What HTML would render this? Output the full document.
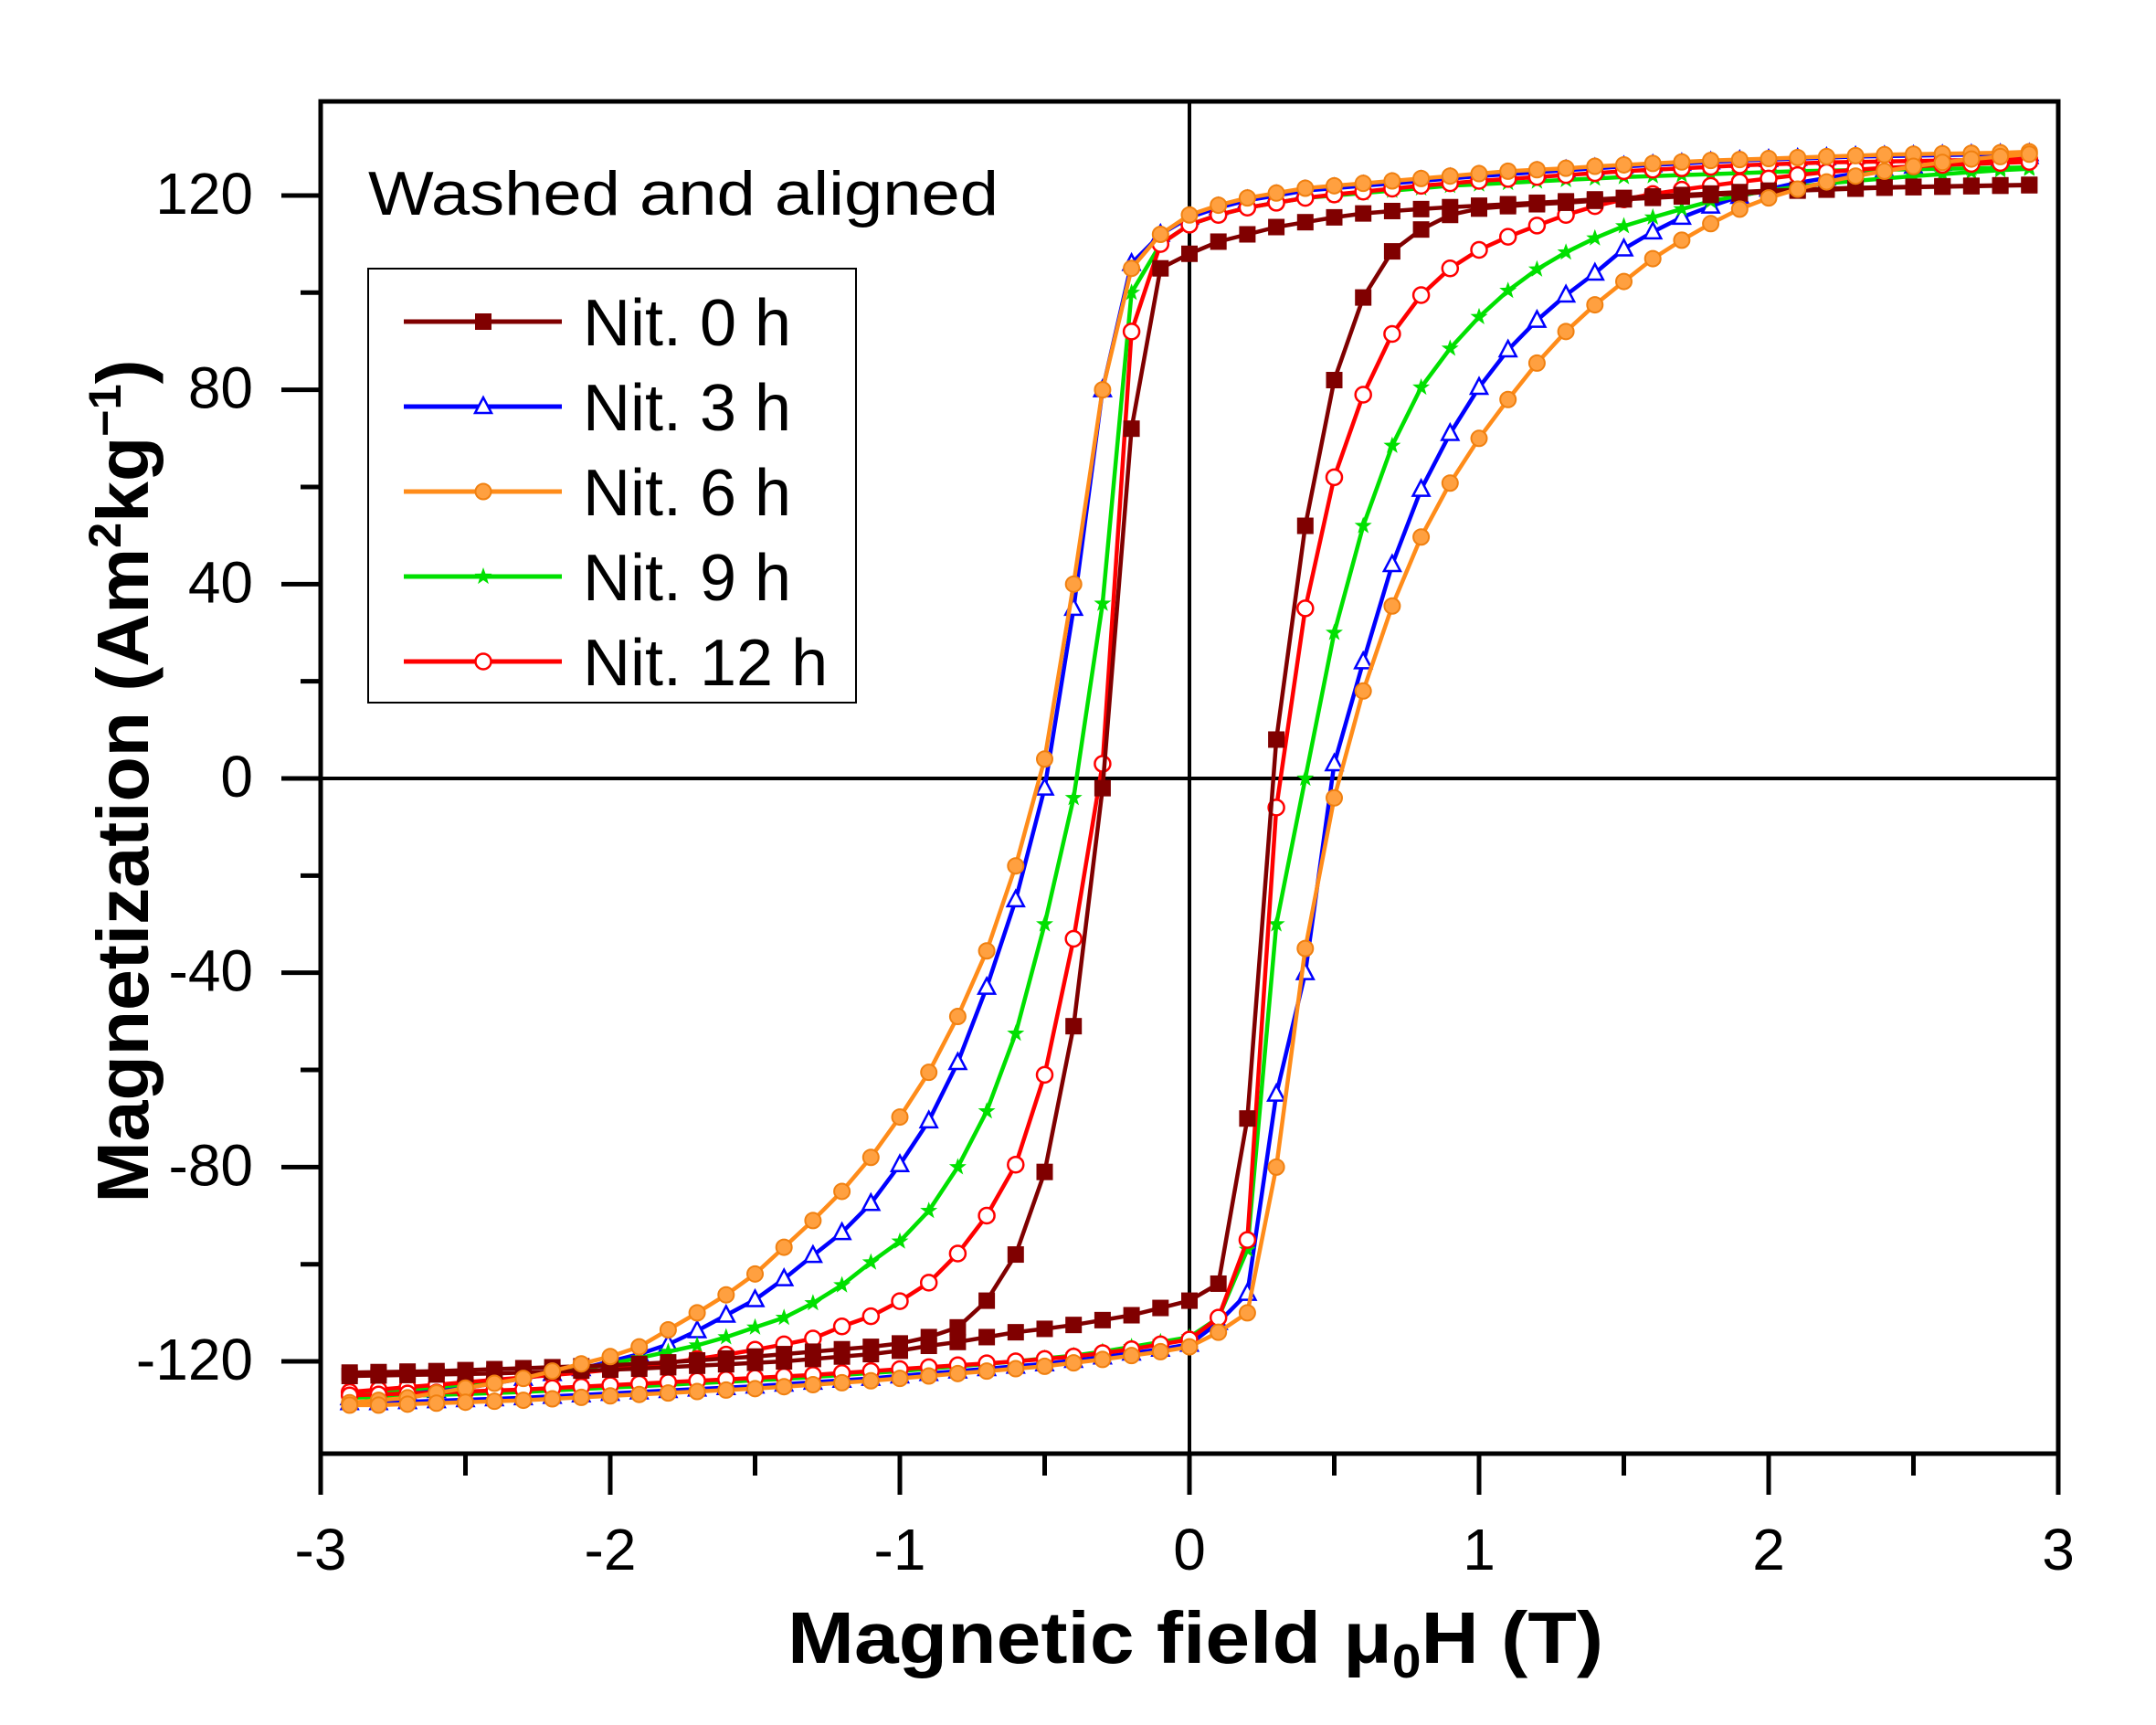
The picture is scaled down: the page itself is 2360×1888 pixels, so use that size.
<!DOCTYPE html>
<html><head><meta charset="utf-8">
<style>
html,body{margin:0;padding:0;background:#fff;}
svg{display:block;font-family:"Liberation Sans",Arial,sans-serif;}
</style></head>
<body>
<svg id="chart" width="2360" height="1888" viewBox="0 0 2360 1888" xmlns="http://www.w3.org/2000/svg">
<rect width="2360" height="1888" fill="#fff"/>
<g id="axes"></g>
<g id="series"></g>
<text x="403" y="235" font-size="68" textLength="690" lengthAdjust="spacingAndGlyphs">Washed and aligned</text>
<g id="legend"></g>
<text x="862" y="1820" font-size="80" font-weight="bold" textLength="893" lengthAdjust="spacingAndGlyphs">Magnetic field μ<tspan font-size="52" dy="16">0</tspan><tspan dy="-16">H (T)</tspan></text>
<text transform="translate(162,855) rotate(-90)" text-anchor="middle" font-size="80" font-weight="bold" textLength="923" lengthAdjust="spacingAndGlyphs">Magnetization (Am<tspan font-size="50" dy="-30">2</tspan><tspan dy="30">kg</tspan><tspan font-size="50" dy="-30">−1</tspan><tspan dy="30">)</tspan></text>
</svg>
<script>
const fieldGrid = [-2.9,-2.8,-2.7,-2.6,-2.5,-2.4,-2.3,-2.2,-2.1,-2.0,-1.9,-1.8,-1.7,-1.6,-1.5,-1.4,-1.3,-1.2,-1.1,-1.0,-0.9,-0.8,-0.7,-0.6,-0.5,-0.4,-0.3,-0.2,-0.1,0,0.1,0.2,0.3,0.4,0.5,0.6,0.7,0.8,0.9,1.0,1.1,1.2,1.3,1.4,1.5,1.6,1.7,1.8,1.9,2.0,2.1,2.2,2.3,2.4,2.5,2.6,2.7,2.8,2.9];
const seriesNames = ["Nit. 0 h","Nit. 3 h","Nit. 6 h","Nit. 9 h","Nit. 12 h"];
const xTicks = [-3,-2,-1,0,1,2,3];
const yTicks = [-120,-80,-40,0,40,80,120];
// upper (descending-field) branches
const upper0h = [-122.3,-122.2,-122.1,-122,-121.8,-121.6,-121.4,-121.2,-121,-120.8,-120.5,-120.2,-119.8,-119.4,-119,-118.5,-118,-117.5,-117,-116.3,-115,-113,-107.5,-98,-81,-51,-2,72,105,108,110.5,112,113.5,114.5,115.5,116.3,116.8,117.2,117.6,117.9,118.2,118.5,118.8,119.2,119.5,119.8,120.1,120.4,120.7,121,121.2,121.4,121.6,121.7,121.8,121.9,122,122.1,122.2];
const upper3h = [-127.5,-127,-126.5,-126,-125.5,-124.5,-123.5,-122.5,-121.5,-120,-118.5,-116.5,-113.7,-110.5,-107.3,-103,-98.2,-93.5,-87.5,-79.5,-70.5,-58.5,-43,-25,-2,35,80,106,112,115.5,117.5,119,120,121,121.5,122,122.5,123,123.5,124,124.4,124.8,125.2,125.6,126,126.3,126.6,126.9,127.2,127.4,127.6,127.8,128,128.1,128.2,128.3,128.4,128.5,128.6];
const upper6h = [-128.5,-128,-127.5,-126.5,-125.5,-124.5,-123.5,-122,-120.5,-119,-117,-113.5,-110,-106.3,-102,-96.5,-91,-85,-78,-69.7,-60.5,-49,-35.5,-18,4,40,80,105,112,116,118,119.5,120.5,121.5,122,122.5,123,123.5,124,124.5,125,125.3,125.6,126,126.3,126.6,126.9,127.2,127.4,127.6,127.8,128,128.2,128.4,128.5,128.6,128.7,128.8,129];
const upper9h = [-126.8,-126.3,-125.8,-125.3,-124.7,-124,-123.3,-122.5,-121.5,-120.5,-119.3,-118,-116.7,-115,-113,-111,-108,-104.3,-99.6,-95.3,-89,-80,-68.5,-52.5,-30,-4,36,100,110,114,116,117.5,118.5,119.5,120,120.5,121,121.5,122,122.3,122.6,122.9,123.2,123.5,123.8,124,124.2,124.4,124.6,124.8,125,125.1,125.2,125.3,125.4,125.5,125.6,125.7,125.8];
const upper12h = [-126.3,-125.8,-125.3,-124.8,-124.3,-123.8,-123.3,-122.8,-122.3,-121.7,-121,-120.3,-119.5,-118.6,-117.6,-116.5,-115.3,-112.8,-110.7,-107.6,-103.8,-97.8,-90,-79.5,-61,-33,3,92,110,114,116,117.5,118.5,119.5,120.2,120.8,121.4,122,122.5,123,123.4,123.8,124.2,124.6,125,125.3,125.6,125.9,126.2,126.4,126.6,126.8,126.9,127,127.1,127.2,127.3,127.4,127.5];
// lower (ascending-field) branches
const lower0h = [-123,-122.9,-122.8,-122.7,-122.6,-122.5,-122.3,-122.1,-121.9,-121.7,-121.5,-121.2,-120.9,-120.6,-120.3,-120,-119.5,-119,-118.5,-117.8,-116.8,-116,-115,-114,-113.3,-112.5,-111.5,-110.5,-109,-107.5,-104,-70,8,52,82,99,108.5,113,116,117.3,117.8,118.2,118.5,118.9,119.2,119.5,119.8,120.1,120.4,120.7,121,121.2,121.4,121.6,121.7,121.8,121.9,122,122.1];
const lower3h = [-128.5,-128.5,-128.3,-128.1,-127.9,-127.7,-127.5,-127.2,-126.9,-126.6,-126.3,-126,-125.7,-125.4,-125.1,-124.7,-124.3,-123.9,-123.5,-123,-122.5,-122,-121.5,-121,-120.5,-119.8,-119.1,-118.3,-117.5,-116.5,-112,-106,-65,-40,3,24,44,59.5,71,80.5,88.2,94.3,99.5,104,109,112.5,115.5,117.8,119.8,121.3,122.6,123.6,124.5,125.3,126,126.6,127.1,127.5,128];
const lower6h = [-129,-129,-128.8,-128.6,-128.4,-128.2,-128,-127.7,-127.4,-127.1,-126.8,-126.5,-126.2,-125.9,-125.6,-125.2,-124.8,-124.4,-124,-123.5,-123,-122.5,-122,-121.5,-121,-120.3,-119.6,-118.8,-118,-117,-114,-110,-80,-35,-4,18,35.5,49.7,60.8,70,78,85.5,92,97.5,102.3,107,110.8,114.2,117.2,119.5,121.3,122.8,124,125,126,126.8,127.5,128,128.5];
const lower9h = [-127.5,-127.3,-127.1,-126.9,-126.7,-126.5,-126.3,-126,-125.7,-125.4,-125.1,-124.8,-124.5,-124.2,-123.9,-123.6,-123.2,-122.8,-122.4,-122,-121.5,-121,-120.5,-120,-119.4,-118.8,-118,-117,-116,-115,-111,-97,-30,0,30,52,68.5,80.5,88.5,95,100.4,104.8,108.3,111.2,113.7,115.5,117.2,118.8,120,121,121.8,122.5,123,123.5,124,124.4,124.8,125.2,125.5];
const lower12h = [-127,-126.8,-126.6,-126.4,-126.2,-126,-125.8,-125.5,-125.2,-124.9,-124.6,-124.3,-124,-123.7,-123.4,-123.1,-122.8,-122.4,-122,-121.6,-121.2,-120.8,-120.4,-120,-119.5,-119,-118.3,-117.5,-116.5,-115.5,-111,-95,-6,35,62,79,91.5,99.5,105,108.8,111.5,113.8,116,117.8,119.2,120.3,121.2,122,122.8,123.5,124.2,124.8,125.3,125.7,126,126.3,126.5,126.7,126.9];

const NS="http://www.w3.org/2000/svg";
const L=351,R=2253,T=111,B=1591;
function xs(v){return 1302+v*317;}
function ys(v){return 852-v*5.317;}
function mk(tag,attrs,parent){const e=document.createElementNS(NS,tag);for(const k in attrs)e.setAttribute(k,attrs[k]);parent.appendChild(e);return e;}
const axes=document.getElementById('axes');
let zl=mk('line',{x1:L,x2:R,y1:ys(0),y2:ys(0),stroke:'#000','stroke-width':4},axes);


zl=mk('line',{x1:xs(0),x2:xs(0),y1:T,y2:B,stroke:'#000','stroke-width':4},axes);


const frame=mk('rect',{x:L,y:T,width:R-L,height:B-T,fill:'none',stroke:'#000','stroke-width':5},axes);


xTicks.forEach((t,i)=>{
  const tk=mk('line',{x1:xs(t),x2:xs(t),y1:B,y2:B+45,stroke:'#000','stroke-width':5},axes);
  
  
  const lb=mk('text',{x:xs(t),y:1718,'font-size':64,'text-anchor':'middle'},axes);
  lb.textContent=t;
  
  
  if(i<xTicks.length-1){
    const m=mk('line',{x1:xs(t+0.5),x2:xs(t+0.5),y1:B,y2:B+24,stroke:'#000','stroke-width':5},axes);
    
    
  }
});
yTicks.forEach(t=>{
  const tk=mk('line',{x1:L-43,x2:L,y1:ys(t),y2:ys(t),stroke:'#000','stroke-width':5},axes);
  
  
  const lb=mk('text',{x:277,y:ys(t)+20,'font-size':64,'text-anchor':'end'},axes);
  lb.textContent=t;
  
  
  if(t<120){
    const m=mk('line',{x1:L-22,x2:L,y1:ys(t+20),y2:ys(t+20),stroke:'#000','stroke-width':5},axes);
    
    
  }
});
const styles=[
 {c:'#800000',m:'square',u:upper0h,l:lower0h},
 {c:'#0000ff',m:'triangle',u:upper3h,l:lower3h},
 {c:'#ff8c1a',m:'dot',u:upper6h,l:lower6h},
 {c:'#00e000',m:'star',u:upper9h,l:lower9h},
 {c:'#ff0000',m:'circle',u:upper12h,l:lower12h}];
function marker(g,type,x,y,c){
  if(type==='square') return mk('rect',{x:x-9,y:y-9,width:18,height:18,fill:c},g);
  if(type==='triangle') return mk('polygon',{points:`${x},${y-10} ${x-9},${y+7} ${x+9},${y+7}`,fill:'#fff',stroke:c,'stroke-width':2.5},g);
  if(type==='dot') return mk('circle',{cx:x,cy:y,r:8.5,fill:'#ffa040',stroke:'#f08010','stroke-width':2},g);
  if(type==='circle') return mk('circle',{cx:x,cy:y,r:8.5,fill:'#fff',stroke:c,'stroke-width':2.5},g);
  let p=[];for(let k=0;k<10;k++){const a=-Math.PI/2+k*Math.PI/5,r=(k%2?4:10);p.push((x+r*Math.cos(a)).toFixed(1)+','+(y+r*Math.sin(a)).toFixed(1));}
  return mk('polygon',{points:p.join(' '),fill:c},g);
}
const sg=document.getElementById('series');
[1,3,4,0,2].forEach(si=>{
  const st=styles[si];
  const g=mk('g',{},sg);
  
  
  [st.u,st.l].forEach((arr,bi)=>{
    const pts=fieldGrid.map((f,i)=>xs(f).toFixed(1)+','+ys(arr[i]).toFixed(1)).join(' ');
    const pl=mk('polyline',{points:pts,fill:'none',stroke:st.c,'stroke-width':4.5,'stroke-linejoin':'round'},g);
    
    
    fieldGrid.forEach((f,i)=>{
      const m=marker(g,st.m,xs(f),ys(arr[i]),st.c);
      
      
    });
  });
});
const lg=document.getElementById('legend');
const box=mk('rect',{x:403,y:294,width:534,height:475,fill:'#fff',stroke:'#000','stroke-width':2},lg);


const legY=[352,445,538,631,724];
seriesNames.forEach((nm,i)=>{
  const g=mk('g',{},lg);
  
  
  mk('line',{x1:442,x2:615,y1:legY[i],y2:legY[i],stroke:styles[i].c,'stroke-width':5},g);
  marker(g,styles[i].m,529,legY[i],styles[i].c);
  const t=mk('text',{x:638,y:legY[i]+26,'font-size':72},g);
  t.textContent=nm;
  
  
});
</script>
</body></html>
